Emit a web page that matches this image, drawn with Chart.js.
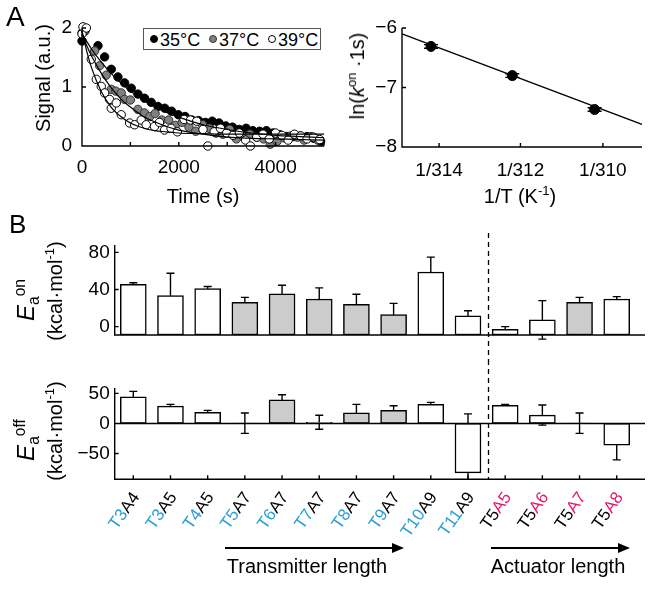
<!DOCTYPE html>
<html>
<head>
<meta charset="utf-8">
<script src="https://cdn.jsdelivr.net/npm/chart.js"></script>
<style>
  body { margin: 0; background: #fff; }
  #fig { position: relative; width: 661px; height: 595px; overflow: hidden; background: #fff;
         font-family: "Liberation Sans", Arial, sans-serif; color: #000; }
  canvas { position: absolute; }
  .t { position: absolute; white-space: nowrap; line-height: 1; }
  .c { transform: translateX(-50%); }
  .rot { transform: translate(-50%, -50%) rotate(-90deg); }
  sup, sub { font-size: 0.65em; line-height: 0; position: relative; vertical-align: baseline; }
  sup { top: -0.6em; }
  sub { top: 0.35em; }
  #legend { position: absolute; left: 143px; top: 28px; width: 178px; height: 22px;
            border: 1px solid #555; box-sizing: border-box; background: #fff; }
  #legend .dot { position: absolute; top: 6px; width: 8px; height: 8px; border-radius: 50%;
                 box-sizing: border-box; border: 1px solid #000; }
  #legend .lt { position: absolute; top: 1px; font-size: 18px; line-height: 20px; }
  svg { position: absolute; left: 0; top: 0; pointer-events: none; }
</style>
</head>
<body>
<div id="fig">
  <canvas id="cA1" width="340" height="210" style="left:0;top:0"></canvas>
  <canvas id="cA2" width="321" height="210" style="left:340px;top:0"></canvas>
  <canvas id="cB1" width="661" height="145" style="left:0;top:215px"></canvas>
  <canvas id="cB2" width="661" height="235" style="left:0;top:360px"></canvas>

  <div class="t" style="left:6px;top:3px;font-size:28px">A</div>
  <div class="t" style="left:9px;top:211px;font-size:26px">B</div>

  <div class="t rot" style="left:43px;top:78px;font-size:20px">Signal (a.u.)</div>
  <div class="t c" style="left:203px;top:186px;font-size:20px">Time (s)</div>
  <div class="t rot" style="left:357px;top:76px;font-size:20px">ln(<i>k</i><sup>on</sup> ·1s)</div>
  <div class="t c" style="left:520px;top:186px;font-size:20px">1/T (K<sup>-1</sup>)</div>

  <div id="legend">
    <span class="dot" style="left:6px;background:#000"></span><span class="lt" style="left:16px">35°C</span>
    <span class="dot" style="left:65px;background:#808080;border-color:#333"></span><span class="lt" style="left:75px">37°C</span>
    <span class="dot" style="left:124px;background:#fff"></span><span class="lt" style="left:134px">39°C</span>
  </div>

  <div class="t rot" style="left:26px;top:300px;font-size:24px"><i>E</i><sub>a</sub><sup>on</sup></div>
  <div class="t rot" style="left:55px;top:291px;font-size:20px">(kcal·mol<sup>-1</sup>)</div>
  <div class="t rot" style="left:26px;top:440px;font-size:24px"><i>E</i><sub>a</sub><sup>off</sup></div>
  <div class="t rot" style="left:55px;top:431px;font-size:20px">(kcal·mol<sup>-1</sup>)</div>

  <div class="t c" style="left:307px;top:556px;font-size:20px">Transmitter length</div>
  <div class="t c" style="left:558px;top:556px;font-size:20px">Actuator length</div>

  <svg width="661" height="595">
    <line x1="225" y1="548" x2="394" y2="548" stroke="#000" stroke-width="2"/>
    <polygon points="404,548 392,543 392,553" fill="#000"/>
    <line x1="491" y1="548" x2="620" y2="548" stroke="#000" stroke-width="2"/>
    <polygon points="630,548 618,543 618,553" fill="#000"/>
  </svg>
</div>

<script>
// ---------- data: panel A, signal decay
const t35 = [0, 60, 330, 467, 605, 742, 880, 1017, 1155, 1292, 1430, 1570, 1710, 1850, 1990, 2130, 2270, 2410, 2550, 2690, 2830, 2970, 3110, 3250, 3390, 3530, 3670, 3810, 3950, 4090, 4230, 4370, 4510, 4650, 4790, 4930];
const s35 = [1.78, 1.95, 1.70, 1.51, 1.30, 1.17, 1.07, 0.98, 0.88, 0.81, 0.74, 0.67, 0.64, 0.59, 0.53, 0.50, 0.44, 0.43, 0.40, 0.42, 0.39, 0.34, 0.32, 0.28, 0.30, 0.26, 0.25, 0.26, 0.22, 0.19, 0.16, 0.16, 0.17, 0.16, 0.13, 0.08];
const t37 = [0, 55, 261, 364, 500, 605, 700, 811, 880, 1000, 1155, 1292, 1400, 1510, 1650, 1790, 1930, 2070, 2210, 2350, 2490, 2630, 2770, 2910, 3050, 3190, 3330, 3470, 3610, 3750, 3890, 4030, 4170, 4310, 4450, 4590, 4730, 4870];
const s37 = [1.92, 1.95, 1.61, 1.36, 1.20, 0.96, 0.93, 0.90, 0.79, 0.78, 0.62, 0.56, 0.50, 0.55, 0.44, 0.44, 0.35, 0.40, 0.32, 0.25, 0.36, 0.30, 0.22, 0.20, 0.28, 0.12, 0.16, 0.20, 0.15, 0.12, 0.03, 0.08, 0.14, 0.17, 0.15, 0.10, 0.16, 0.10];
const t39 = [0, 20, 90, 192, 295, 398, 467, 570, 605, 708, 811, 983, 1086, 1223, 1326, 1498, 1600, 1704, 1840, 1970, 2110, 2240, 2370, 2500, 2600, 2730, 2860, 2990, 3120, 3250, 3380, 3480, 3610, 3740, 3870, 4000, 4130, 4260, 4390, 4520, 4650, 4780, 4910];
const s39 = [1.90, 2.02, 2.00, 1.47, 1.13, 1.01, 0.90, 0.79, 0.64, 0.73, 0.53, 0.39, 0.36, 0.44, 0.36, 0.33, 0.40, 0.27, 0.30, 0.24, 0.45, 0.44, 0.42, 0.28, 0.00, 0.24, 0.30, 0.22, 0.18, 0.22, 0.10, 0.00, 0.15, 0.20, 0.12, 0.22, 0.18, 0.10, 0.20, 0.17, 0.12, 0.15, 0.11];

// fitted curves
const fitT = [0, 100, 200, 400, 600, 800, 1000, 1250, 1500, 1750, 2000, 2500, 3000, 3500, 4000, 4500, 5000];
const fit35 = [1.90, 1.77, 1.64, 1.42, 1.23, 1.07, 0.93, 0.79, 0.67, 0.57, 0.49, 0.36, 0.28, 0.22, 0.18, 0.16, 0.14];
const fit37 = [1.90, 1.70, 1.52, 1.23, 0.99, 0.80, 0.66, 0.51, 0.41, 0.33, 0.27, 0.20, 0.15, 0.13, 0.12, 0.11, 0.10];
const fit39 = [1.95, 1.60, 1.32, 0.92, 0.66, 0.50, 0.39, 0.31, 0.26, 0.24, 0.22, 0.21, 0.20, 0.20, 0.20, 0.20, 0.20];

const timeTicks = [0, 1000, 2000, 3000, 4000, 5000];
const timeTickLabels = ['0', '', '2000', '', '4000', ''];
const signalTicks = [0, 1, 2];

// ---------- data: panel A, Arrhenius plot
const tempK = [314.2, 312.2, 310.2];
const lnK = [-6.31, -6.80, -7.37];
const lnKErr = [0.03, 0.03, 0.03];
const fitLineT = [314.92, 309.06];
const fitLineLnK = [-6.10, -7.62];
const invTTicks = [314, 312, 310];
const lnKTicks = [-8, -7, -6];

// ---------- data: panel B
const labPrefix = ['T3', 'T3', 'T4', 'T5', 'T6', 'T7', 'T8', 'T9', 'T10', 'T11', 'T5', 'T5', 'T5', 'T5'];
const labSuffix = ['A4', 'A5', 'A5', 'A7', 'A7', 'A7', 'A7', 'A7', 'A9', 'A9', 'A5', 'A6', 'A7', 'A8'];
const eaOn = [45.5, 33.5, 41.1, 26.2, 35.3, 29.8, 24.0, 13.1, 58.9, 11.6, -3.0, 7.3, 26.2, 29.8];
const eaOnErr = [1.8, 24.0, 2.2, 5.4, 9.4, 12.0, 10.9, 12.0, 16.0, 5.5, 3.0, 20.7, 5.4, 2.6];
const eaOff = [44.4, 28.9, 18.3, 0.5, 39.4, 2.0, 17.7, 21.7, 31.7, -82.3, 30.0, 13.9, 0.5, -36.1];
const eaOffErr = [8.9, 2.8, 3.4, 17.0, 8.4, 11.7, 14.0, 7.7, 3.3, 98.3, 1.8, 16.7, 17.0, 24.5];
const eaOnTicks = [0, 40, 80];
const eaOffTicks = [-50, 0, 50];
const dividerX = 10.55;

// ---------- styles
const shaded = [3, 4, 5, 6, 7, 12];
const nTransmitter = 10;
const CYAN = '#2a9fd6', PINK = '#e5186f';

Chart.defaults.font.family = '"Liberation Sans", Arial, sans-serif';
Chart.defaults.font.size = 19;
Chart.defaults.color = '#000';
Chart.defaults.animation = false;

const minus = v => String(v).replace('-', '\u2212');

// axis lines with inward ticks, like the original figure
const matlabAxes = {
  id: 'matlabAxes',
  afterDatasetsDraw(chart, args, o) {
    if (!o || !o.len) return;
    const { ctx, chartArea: a } = chart;
    const xs = chart.scales.x, ys = chart.scales.y;
    ctx.save();
    ctx.strokeStyle = '#000';
    ctx.lineWidth = 1.4;
    ctx.beginPath();
    ctx.moveTo(a.left, a.top);
    ctx.lineTo(a.left, a.bottom);
    ctx.lineTo(a.right, a.bottom);
    ys.ticks.forEach(t => {
      const y = ys.getPixelForValue(t.value);
      ctx.moveTo(a.left, y); ctx.lineTo(a.left + o.len, y);
    });
    if (o.xTicks) xs.ticks.forEach(t => {
      const x = xs.getPixelForValue(t.value);
      ctx.moveTo(x, a.bottom); ctx.lineTo(x, a.bottom - o.len);
    });
    if (o.zero) {
      const y0 = ys.getPixelForValue(0);
      ctx.moveTo(a.left, y0); ctx.lineTo(a.right, y0);
    }
    ctx.stroke();
    if (o.divider) {
      const x = Math.round(xs.getPixelForValue(o.divider.at)) + 0.5;
      ctx.setLineDash([5, 4]);
      ctx.lineWidth = 1.3;
      ctx.beginPath();
      ctx.moveTo(x, o.divider.from);
      ctx.lineTo(x, o.divider.to == null ? a.bottom : o.divider.to);
      ctx.stroke();
    }
    ctx.restore();
  }
};

function drawErrors(chart, o) {
  const { ctx, chartArea: a } = chart;
  const xs = chart.scales.x, ys = chart.scales.y;
  const ds = chart.data.datasets[o.dataset];
  ctx.save();
  if (o.clip) {
    ctx.beginPath();
    ctx.rect(a.left, a.top, a.right - a.left, a.bottom - a.top);
    ctx.clip();
  }
  ctx.strokeStyle = '#000';
  ctx.lineWidth = 1.4;
  ctx.beginPath();
  ds.data.forEach((p, i) => {
    const x = xs.getPixelForValue(p.x);
    const yHi = ys.getPixelForValue(p.y + o.errors[i]);
    const yLo = ys.getPixelForValue(p.y - o.errors[i]);
    ctx.moveTo(x, yHi); ctx.lineTo(x, yLo);
    ctx.moveTo(x - o.half, yHi); ctx.lineTo(x + o.half, yHi);
    ctx.moveTo(x - o.half, yLo); ctx.lineTo(x + o.half, yLo);
  });
  ctx.stroke();
  ctx.restore();
}

const errorBars = {
  id: 'errorBars',
  beforeDatasetsDraw(chart, args, o) { if (o && o.errors && o.under) drawErrors(chart, o); },
  afterDatasetsDraw(chart, args, o) { if (o && o.errors && !o.under) drawErrors(chart, o); }
};

// two-colour rotated category labels
const catLabels = {
  id: 'catLabels',
  afterDraw(chart, args, o) {
    if (!o || !o.prefix) return;
    const { ctx } = chart;
    const xs = chart.scales.x;
    ctx.save();
    ctx.font = o.font;
    o.prefix.forEach((p, i) => {
      const x = xs.getPixelForValue(i + 1);
      ctx.save();
      ctx.translate(x + o.dx, chart.chartArea.bottom + o.dy);
      ctx.rotate(-o.angle * Math.PI / 180);
      ctx.textAlign = 'right';
      ctx.textBaseline = 'middle';
      ctx.fillStyle = o.suffixColor(i);
      ctx.fillText(o.suffix[i], 0, 0);
      const w = ctx.measureText(o.suffix[i]).width;
      ctx.fillStyle = o.prefixColor(i);
      ctx.fillText(p, -w, 0);
      ctx.restore();
    });
    ctx.restore();
  }
};

Chart.register(matlabAxes, errorBars, catLabels);

const plainGrid = { display: false, drawTicks: false };
const noBorder = { display: false };

// ---------- panel A left
const line = (xs, ys) => ({
  type: 'line',
  data: xs.map((x, i) => ({ x, y: ys[i] })),
  borderColor: '#000', borderWidth: 1.2, pointRadius: 0,
  cubicInterpolationMode: 'monotone', order: 0, clip: false
});
const pts = (xs, ys, fill, edge, order) => ({
  type: 'scatter',
  data: xs.map((x, i) => ({ x, y: ys[i] })),
  backgroundColor: fill, borderColor: edge, borderWidth: 1,
  pointRadius: 4.2, pointHoverRadius: 4.2, order, clip: false
});

new Chart(document.getElementById('cA1'), {
  type: 'scatter',
  data: {
    datasets: [
      line(fitT, fit35), line(fitT, fit37), line(fitT, fit39),
      pts(t39, s39, '#ffffff', '#000', 1),
      pts(t37, s37, '#808080', '#333', 2),
      pts(t35, s35, '#000000', '#000', 3)
    ]
  },
  options: {
    responsive: false,
    layout: { padding: { left: 42, right: 16, top: 28, bottom: 24 } },
    plugins: { legend: { display: false }, tooltip: { enabled: false }, matlabAxes: { len: 4, xTicks: true } },
    scales: {
      x: {
        type: 'linear', min: 0, max: 5000, grid: plainGrid, border: noBorder,
        afterFit: s => { s.height = 40; },
        afterBuildTicks: s => { s.ticks = timeTicks.map(v => ({ value: v })); },
        ticks: { padding: 10, autoSkip: false, maxRotation: 0, callback: (v, i) => timeTickLabels[i] }
      },
      y: {
        min: 0, max: 2, grid: plainGrid, border: noBorder,
        afterFit: s => { s.width = 40; },
        afterBuildTicks: s => { s.ticks = signalTicks.map(v => ({ value: v })); },
        ticks: { padding: 10 }
      }
    }
  }
});

// ---------- panel A right
new Chart(document.getElementById('cA2'), {
  type: 'scatter',
  data: {
    datasets: [
      {
        type: 'line', data: fitLineT.map((T, i) => ({ x: 1e6 / T, y: fitLineLnK[i] })),
        borderColor: '#000', borderWidth: 1.4, pointRadius: 0, order: 1, clip: false
      },
      {
        type: 'scatter', data: tempK.map((T, i) => ({ x: 1e6 / T, y: lnK[i] })),
        backgroundColor: '#000', borderColor: '#000', pointRadius: 5, pointHoverRadius: 5, order: 0
      }
    ]
  },
  options: {
    responsive: false,
    layout: { padding: { left: 22, right: 19, top: 28, bottom: 23 } },
    plugins: {
      legend: { display: false }, tooltip: { enabled: false },
      matlabAxes: { len: 4, xTicks: true },
      errorBars: { dataset: 1, errors: lnKErr, half: 7 }
    },
    scales: {
      x: {
        type: 'linear', min: 1e6 / fitLineT[0], max: 1e6 / fitLineT[1], grid: plainGrid, border: noBorder,
        afterFit: s => { s.height = 40; },
        afterBuildTicks: s => { s.ticks = invTTicks.map(T => ({ value: 1e6 / T })); },
        ticks: { padding: 12, autoSkip: false, maxRotation: 0, callback: (v, i) => '1/' + invTTicks[i] }
      },
      y: {
        min: -8, max: -6, grid: plainGrid, border: noBorder,
        afterFit: s => { s.width = 40; },
        afterBuildTicks: s => { s.ticks = lnKTicks.map(v => ({ value: v })); },
        ticks: { padding: 5, callback: minus }
      }
    }
  }
});

// ---------- panel B
function eaChart(id, values, errs, yMin, yMax, yTicks, extra) {
  return new Chart(document.getElementById(id), {
    type: 'bar',
    data: {
      datasets: [{
        data: values.map((v, i) => ({ x: i + 1, y: v })),
        backgroundColor: values.map((_, i) => shaded.includes(i) ? '#cccccc' : '#ffffff'),
        borderColor: '#000', borderWidth: 1.5, borderSkipped: false,
        barThickness: 26, base: extra.base
      }]
    },
    options: {
      responsive: false,
      layout: { padding: extra.padding },
      plugins: {
        legend: { display: false }, tooltip: { enabled: false },
        errorBars: { dataset: 0, errors: errs, half: 4, under: true, clip: extra.clip },
        matlabAxes: { len: 4, xTicks: extra.xTicks, zero: extra.zero, divider: extra.divider },
        catLabels: extra.labels || {}
      },
      scales: {
        x: {
          type: 'linear', offset: false, min: 0.5, max: 14.76, grid: plainGrid, border: noBorder,
          ticks: { display: false },
          afterFit: s => { s.height = 0; },
          afterBuildTicks: s => { s.ticks = labPrefix.map((_, i) => ({ value: i + 1 })); }
        },
        y: {
          min: yMin, max: yMax, grid: plainGrid, border: noBorder,
          afterFit: s => { s.width = 40; },
          afterBuildTicks: s => { s.ticks = yTicks.map(v => ({ value: v })); },
          ticks: { padding: 5, callback: minus }
        }
      }
    }
  });
}

eaChart('cB1', eaOn, eaOnErr, -9, 88, eaOnTicks, {
  base: -9, clip: false, xTicks: false, zero: false,
  padding: { left: 74.7, right: 16, top: 30, bottom: 25 },
  divider: { at: dividerX, from: 18, to: 145 }
});

eaChart('cB2', eaOff, eaOffErr, -93, 59, eaOffTicks, {
  clip: true, xTicks: true, zero: true,
  padding: { left: 74.7, right: 16, top: 28, bottom: 115.7 },
  divider: { at: dividerX, from: 0, to: null },
  labels: {
    prefix: labPrefix, suffix: labSuffix,
    prefixColor: i => i < nTransmitter ? CYAN : '#000',
    suffixColor: i => i < nTransmitter ? '#000' : PINK,
    font: '17px "Liberation Sans", Arial, sans-serif',
    angle: 55, dx: 3, dy: 15
  }
});
</script>
</body>
</html>
